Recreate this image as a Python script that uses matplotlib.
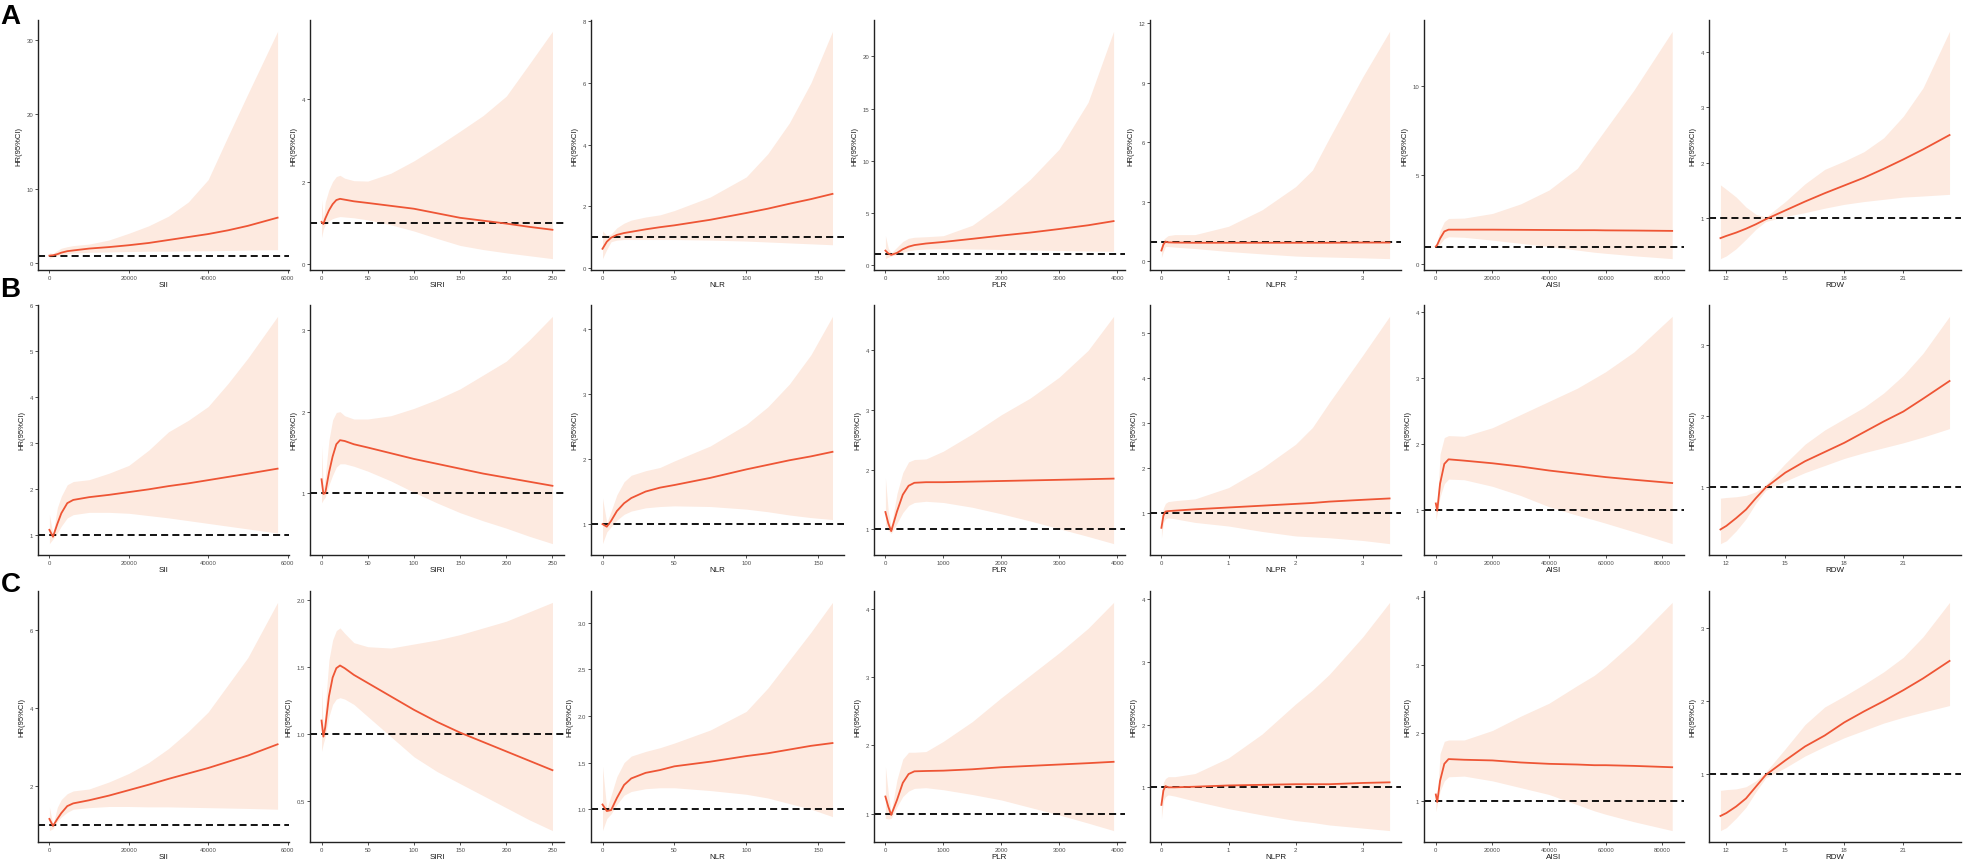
import matplotlib
matplotlib.use("Agg")
import matplotlib.pyplot as plt
from matplotlib.ticker import FixedLocator, FixedFormatter

plt.rcParams['font.family'] = ['Liberation Sans', 'DejaVu Sans']

variables = ['SII', 'SIRI', 'NLR', 'PLR', 'NLPR', 'AISI', 'RDW']
row_letters = ['A', 'B', 'C']

# each *_hr / *_lo / *_hi holds three rows: panel A, panel B, panel C
SII_x = [0, 900, 2000, 3000, 4500, 6000, 10000, 15000, 20000, 25000, 30000, 35000, 40000, 45000, 50000, 57500]
SII_hr = [[1.0, 1.05, 1.2, 1.4, 1.6, 1.7, 1.95, 2.15, 2.4, 2.7, 3.1, 3.5, 3.9, 4.4, 5.0, 6.1],
          [1.12, 0.97, 1.25, 1.48, 1.7, 1.77, 1.83, 1.88, 1.94, 2.0, 2.07, 2.13, 2.2, 2.27, 2.34, 2.45],
          [1.15, 0.97, 1.15, 1.3, 1.48, 1.55, 1.63, 1.75, 1.89, 2.03, 2.18, 2.32, 2.46, 2.62, 2.78, 3.07]]
SII_lo = [[0.6, 0.8, 1.0, 1.15, 1.25, 1.35, 1.45, 1.5, 1.55, 1.6, 1.6, 1.65, 1.65, 1.7, 1.75, 1.8],
          [0.82, 0.92, 1.05, 1.2, 1.38, 1.45, 1.5, 1.5, 1.48, 1.43, 1.38, 1.32, 1.26, 1.2, 1.14, 1.05],
          [0.85, 0.9, 1.08, 1.2, 1.32, 1.4, 1.44, 1.47, 1.47, 1.46, 1.46, 1.45, 1.44, 1.43, 1.42, 1.4]]
SII_hi = [[1.4, 1.3, 1.7, 2.0, 2.2, 2.35, 2.55, 3.1, 4.0, 5.0, 6.3, 8.2, 11.2, 17.0, 22.7, 31.1],
          [1.45, 1.02, 1.6, 1.85, 2.1, 2.17, 2.21, 2.35, 2.52, 2.85, 3.25, 3.5, 3.8, 4.3, 4.85, 5.76],
          [1.45, 1.0, 1.45, 1.65, 1.8, 1.87, 1.92, 2.1, 2.32, 2.6, 2.96, 3.4, 3.9, 4.6, 5.3, 6.72]]

SIRI_x = [0, 2, 4, 8, 12, 16, 20, 25, 35, 50, 75, 100, 125, 150, 175, 200, 225, 250]
SIRI_hr = [[1.02, 0.97, 1.1, 1.3, 1.45, 1.55, 1.58, 1.56, 1.52, 1.48, 1.41, 1.34, 1.23, 1.12, 1.05, 0.98, 0.9, 0.83],
           [1.17, 0.99, 1.0, 1.25, 1.45, 1.6, 1.65, 1.64, 1.6, 1.56, 1.49, 1.42, 1.36, 1.3, 1.24, 1.19, 1.14, 1.09],
           [1.1, 0.98, 1.05, 1.28, 1.42, 1.49, 1.51, 1.49, 1.44, 1.38, 1.28, 1.18, 1.09, 1.01, 0.94, 0.87, 0.8, 0.73]]
SIRI_lo = [[0.64, 0.85, 0.95, 1.05, 1.1, 1.13, 1.15, 1.14, 1.12, 1.07, 0.95, 0.8, 0.62, 0.45, 0.35, 0.27, 0.2, 0.13],
           [0.88, 0.92, 0.95, 1.1, 1.22, 1.32, 1.36, 1.36, 1.33, 1.27, 1.15, 1.01, 0.88, 0.76, 0.66, 0.57, 0.47, 0.38],
           [0.87, 0.93, 0.98, 1.13, 1.22, 1.26, 1.27, 1.26, 1.22, 1.13, 0.98, 0.83, 0.72, 0.63, 0.54, 0.45, 0.36, 0.28]]
SIRI_hi = [[1.56, 1.1, 1.5, 1.8, 2.0, 2.12, 2.15, 2.08, 2.02, 2.01, 2.2, 2.5, 2.85, 3.22, 3.6, 4.07, 4.85, 5.64],
           [1.58, 1.05, 1.2, 1.65, 1.9, 1.99, 2.0, 1.95, 1.91, 1.91, 1.95, 2.04, 2.15, 2.28, 2.45, 2.62, 2.88, 3.17],
           [1.35, 1.02, 1.2, 1.55, 1.7, 1.77, 1.79, 1.75, 1.68, 1.65, 1.64, 1.67, 1.7, 1.74, 1.79, 1.84, 1.91, 1.98]]

NLR_x = [0, 3, 6, 10, 15, 20, 30, 40, 50, 75, 100, 115, 130, 145, 160]
NLR_hr = [[0.62, 0.85, 0.98, 1.07, 1.13, 1.17, 1.25, 1.32, 1.38, 1.56, 1.78, 1.92, 2.08, 2.23, 2.4],
          [1.0, 0.96, 1.05, 1.2, 1.32, 1.4, 1.5, 1.56, 1.6, 1.71, 1.84, 1.91, 1.98, 2.04, 2.11],
          [1.05, 0.98, 0.99, 1.12, 1.26, 1.33, 1.39, 1.42, 1.46, 1.51, 1.57, 1.6, 1.64, 1.68, 1.71]]
NLR_lo = [[0.3, 0.6, 0.85, 0.9, 0.92, 0.92, 0.92, 0.92, 0.92, 0.9, 0.87, 0.84, 0.81, 0.78, 0.75],
          [0.7, 0.88, 0.96, 1.06, 1.15, 1.2, 1.25, 1.27, 1.28, 1.27, 1.23, 1.19, 1.14, 1.1, 1.07],
          [0.77, 0.9, 0.95, 1.05, 1.15, 1.19, 1.22, 1.23, 1.23, 1.2, 1.16, 1.12, 1.06, 1.0, 0.92]]
NLR_hi = [[1.2, 1.05, 1.1, 1.3, 1.45, 1.55, 1.65, 1.72, 1.86, 2.3, 2.95, 3.7, 4.7, 6.0, 7.67],
          [1.4, 1.02, 1.2, 1.45, 1.65, 1.75, 1.82, 1.87, 1.97, 2.2, 2.53, 2.8, 3.15, 3.6, 4.19],
          [1.46, 1.0, 1.15, 1.35, 1.5, 1.57, 1.62, 1.66, 1.71, 1.85, 2.05, 2.3, 2.6, 2.9, 3.22]]

PLR_x = [0, 50, 100, 200, 300, 400, 500, 700, 1000, 1500, 2000, 2500, 3000, 3500, 3940]
PLR_hr = [[1.37, 1.1, 0.96, 1.15, 1.5, 1.75, 1.9, 2.05, 2.2, 2.5, 2.81, 3.1, 3.44, 3.8, 4.2],
          [1.29, 1.1, 0.97, 1.3, 1.58, 1.73, 1.78, 1.79, 1.79, 1.8, 1.81, 1.82, 1.83, 1.84, 1.85],
          [1.25, 1.1, 0.98, 1.2, 1.45, 1.58, 1.62, 1.625, 1.63, 1.65, 1.68, 1.7, 1.72, 1.74, 1.76]]
PLR_lo = [[0.6, 0.75, 0.85, 1.0, 1.2, 1.35, 1.45, 1.52, 1.55, 1.52, 1.48, 1.42, 1.38, 1.33, 1.3],
          [1.07, 0.98, 0.93, 1.1, 1.28, 1.4, 1.45, 1.47, 1.45, 1.37, 1.26, 1.14, 1.01, 0.88, 0.76],
          [0.93, 0.92, 0.93, 1.1, 1.25, 1.33, 1.37, 1.38, 1.35, 1.28, 1.2, 1.09, 0.98, 0.86, 0.75]]
PLR_hi = [[2.8, 1.6, 1.15, 1.7, 2.25, 2.55, 2.65, 2.7, 2.8, 3.8, 5.8, 8.2, 11.1, 15.6, 22.4],
          [1.86, 1.3, 1.05, 1.6, 1.95, 2.13, 2.17, 2.18, 2.31, 2.6, 2.92, 3.2, 3.55, 4.0, 4.57],
          [1.69, 1.3, 1.02, 1.5, 1.8, 1.9, 1.9, 1.91, 2.06, 2.35, 2.7, 3.03, 3.36, 3.72, 4.1]]

NLPR_x = [0, 0.03, 0.06, 0.1, 0.2, 0.5, 1, 1.5, 2, 2.25, 2.5, 3, 3.4]
NLPR_hr = [[0.55, 0.85, 1.0, 0.96, 0.95, 0.94, 0.94, 0.94, 0.94, 0.94, 0.94, 0.95, 0.95],
           [0.68, 0.95, 1.04, 1.05, 1.06, 1.09, 1.13, 1.17, 1.21, 1.23, 1.26, 1.3, 1.33],
           [0.72, 0.95, 1.02, 1.0, 1.0, 1.01, 1.03, 1.04, 1.05, 1.05, 1.05, 1.07, 1.08]]
NLPR_lo = [[0.2, 0.5, 0.75, 0.75, 0.72, 0.65, 0.5, 0.38, 0.27, 0.24, 0.22, 0.18, 0.14],
           [0.45, 0.8, 0.88, 0.9, 0.88, 0.8, 0.72, 0.6, 0.5, 0.48, 0.46, 0.4, 0.33],
           [0.5, 0.78, 0.85, 0.88, 0.86, 0.78, 0.66, 0.56, 0.47, 0.44, 0.4, 0.35, 0.31]]
NLPR_hi = [[0.9, 1.1, 1.2, 1.3, 1.35, 1.35, 1.77, 2.6, 3.77, 4.6, 6.2, 9.3, 11.59],
           [0.95, 1.12, 1.22, 1.26, 1.28, 1.32, 1.57, 2.0, 2.53, 2.9, 3.45, 4.5, 5.36],
           [0.9, 1.08, 1.14, 1.17, 1.17, 1.22, 1.47, 1.85, 2.33, 2.55, 2.8, 3.4, 3.95]]

AISI_x = [0, 500, 1500, 3000, 4500, 10000, 20000, 30000, 40000, 50000, 56000, 60000, 70000, 83500]
AISI_hr = [[1.0, 1.1, 1.45, 1.85, 1.95, 1.95, 1.95, 1.94, 1.93, 1.92, 1.92, 1.91, 1.9, 1.88],
           [1.1, 0.99, 1.4, 1.7, 1.77, 1.75, 1.71, 1.66, 1.6, 1.55, 1.52, 1.5, 1.46, 1.41],
           [1.1, 0.99, 1.3, 1.55, 1.62, 1.61, 1.6, 1.57, 1.55, 1.54, 1.53, 1.53, 1.52, 1.5]]
AISI_lo = [[0.9, 0.95, 1.15, 1.45, 1.55, 1.52, 1.36, 1.18, 1.0, 0.8, 0.68, 0.62, 0.48, 0.32],
           [0.85, 0.95, 1.2, 1.4, 1.47, 1.46, 1.36, 1.22, 1.05, 0.92, 0.85, 0.8, 0.67, 0.49],
           [0.85, 0.95, 1.15, 1.3, 1.36, 1.37, 1.3, 1.2, 1.1, 0.95, 0.86, 0.81, 0.7, 0.57]]
AISI_hi = [[1.1, 1.3, 1.9, 2.4, 2.58, 2.6, 2.86, 3.4, 4.18, 5.4, 6.72, 7.6, 9.8, 13.1],
           [1.15, 1.05, 1.85, 2.1, 2.13, 2.12, 2.25, 2.45, 2.65, 2.85, 3.0, 3.1, 3.4, 3.94],
           [1.15, 1.02, 1.7, 1.88, 1.9, 1.9, 2.04, 2.25, 2.44, 2.7, 2.85, 2.98, 3.35, 3.92]]

RDW_x = [11.7, 12, 12.5, 13, 13.5, 14, 15, 16, 17, 18, 19, 20, 21, 22, 23.35]
RDW_hr = [[0.64, 0.68, 0.74, 0.81, 0.89, 0.98, 1.14, 1.3, 1.45, 1.59, 1.73, 1.89, 2.06, 2.24, 2.5],
          [0.4, 0.45, 0.56, 0.68, 0.84, 0.99, 1.2, 1.36, 1.49, 1.62, 1.77, 1.92, 2.06, 2.24, 2.49],
          [0.43, 0.47, 0.56, 0.67, 0.83, 0.99, 1.19, 1.38, 1.53, 1.71, 1.86, 2.0, 2.15, 2.31, 2.55]]
RDW_lo = [[0.27, 0.32, 0.45, 0.62, 0.8, 0.94, 1.03, 1.1, 1.18, 1.25, 1.3, 1.34, 1.38, 1.4, 1.43],
          [0.2, 0.24, 0.38, 0.55, 0.77, 0.95, 1.08, 1.2, 1.3, 1.4, 1.48, 1.55, 1.62, 1.7, 1.82],
          [0.23, 0.27, 0.4, 0.55, 0.76, 0.95, 1.09, 1.25, 1.38, 1.5, 1.6, 1.7, 1.78, 1.85, 1.94]]
RDW_hi = [[1.6, 1.52, 1.38, 1.2, 1.07, 1.02, 1.3, 1.62, 1.88, 2.03, 2.2, 2.45, 2.84, 3.35, 4.37],
          [0.84, 0.85, 0.86, 0.88, 0.93, 1.03, 1.33, 1.6, 1.8, 1.96, 2.12, 2.32, 2.57, 2.88, 3.4],
          [0.78, 0.79, 0.8, 0.83, 0.91, 1.03, 1.35, 1.68, 1.92, 2.07, 2.23, 2.4, 2.6, 2.88, 3.35]]

x_ticks = {
    'SII': ([0, 20000, 40000, 60000], ['0', '20000', '40000', '6000']),
    'SIRI': ([0, 50, 100, 150, 200, 250], ['0', '50', '100', '150', '200', '250']),
    'NLR': ([0, 50, 100, 150], ['0', '50', '100', '150']),
    'PLR': ([0, 1000, 2000, 3000, 4000], ['0', '1000', '2000', '3000', '4000']),
    'NLPR': ([0, 1, 2, 3], ['0', '1', '2', '3']),
    'AISI': ([0, 20000, 40000, 60000, 80000], ['0', '20000', '40000', '60000', '80000']),
    'RDW': ([12, 15, 18, 21], ['12', '15', '18', '21']),
}
y_ticks = [
    [[0, 10, 20, 30], [0, 2, 4], [0, 2, 4, 6, 8], [0, 5, 10, 15, 20], [0, 3, 6, 9, 12], [0, 5, 10], [1, 2, 3, 4]],
    [[1, 2, 3, 4, 5, 6], [1, 2, 3], [1, 2, 3, 4], [1, 2, 3, 4], [1, 2, 3, 4, 5], [1, 2, 3, 4], [1, 2, 3]],
    [[2, 4, 6], [0.5, 1.0, 1.5, 2.0], [1.0, 1.5, 2.0, 2.5, 3.0], [1, 2, 3, 4], [1, 2, 3, 4], [1, 2, 3, 4], [1, 2, 3]],
]
y_tick_labels_c = {1: ['0.5', '1.0', '1.5', '2.0'], 2: ['1.0', '1.5', '2.0', '2.5', '3.0']}

data = {
    'SII': (SII_x, SII_hr, SII_lo, SII_hi),
    'SIRI': (SIRI_x, SIRI_hr, SIRI_lo, SIRI_hi),
    'NLR': (NLR_x, NLR_hr, NLR_lo, NLR_hi),
    'PLR': (PLR_x, PLR_hr, PLR_lo, PLR_hi),
    'NLPR': (NLPR_x, NLPR_hr, NLPR_lo, NLPR_hi),
    'AISI': (AISI_x, AISI_hr, AISI_lo, AISI_hi),
    'RDW': (RDW_x, RDW_hr, RDW_lo, RDW_hi),
}

W, H = 1967, 862
fig = plt.figure(figsize=(W / 100, H / 100), dpi=100)

# panel frame in pixels
col_left = [38, 310, 591, 874, 1150, 1424, 1709]
col_right = [289, 564, 844, 1125, 1401, 1684, 1961]
row_top = [21, 306, 592]
row_bot = [271, 556, 843]
letter_top = [4, 277, 572]

line_col = '#EE5535'
band_col = '#FDEAE0'

for r in range(3):
    for c, var in enumerate(variables):
        l, rr = col_left[c], col_right[c]
        t, b = row_top[r], row_bot[r]
        ax = fig.add_axes([l / W, 1 - b / H, (rr - l) / W, (b - t) / H])
        x, hr, lo, hi = data[var]
        ax.fill_between(x, lo[r], hi[r], color=band_col, lw=0, zorder=1)
        ax.plot(x, hr[r], color=line_col, lw=1.3, zorder=3)
        ax.axhline(1, color='black', lw=1.3, linestyle=(0, (3.9, 2.3)), zorder=2)
        ax.margins(x=0.05, y=0.05)

        for s in ['top', 'right']:
            ax.spines[s].set_visible(False)
        for s in ['left', 'bottom']:
            ax.spines[s].set_linewidth(1.0)
            ax.spines[s].set_color('#222222')

        xt, xl = x_ticks[var]
        ax.xaxis.set_major_locator(FixedLocator(xt))
        ax.xaxis.set_major_formatter(FixedFormatter(xl))
        yt = y_ticks[r][c]
        ax.yaxis.set_major_locator(FixedLocator(yt))
        if r == 2 and c in y_tick_labels_c:
            ax.yaxis.set_major_formatter(FixedFormatter(y_tick_labels_c[c]))
        else:
            ax.yaxis.set_major_formatter(FixedFormatter([str(v) for v in yt]))
        ax.tick_params(length=2, width=0.6, color='#333333', labelsize=4.3,
                       labelcolor='#4D4D4D', pad=1.5)
        ax.set_xlabel(var, fontsize=5.8, color='#1A1A1A', labelpad=1)
        ax.set_ylabel('HR(95%CI)', fontsize=5.5, color='#1A1A1A', labelpad=3)

for r, letter in enumerate(row_letters):
    fig.text(0.5 / W, 1 - letter_top[r] / H, letter, fontsize=20, fontweight='bold',
             va='top', ha='left')

fig.savefig('out.png', dpi=100)
